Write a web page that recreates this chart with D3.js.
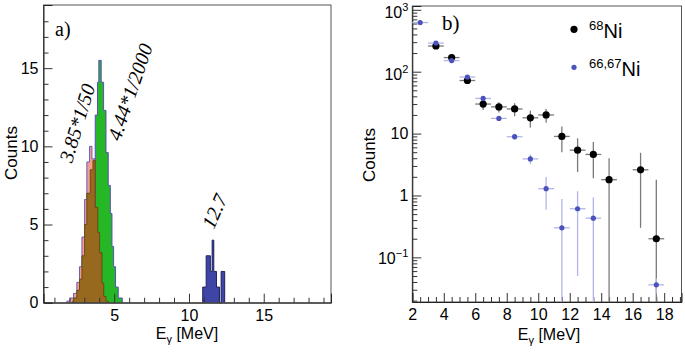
<!DOCTYPE html>
<html>
<head>
<meta charset="utf-8">
<script src="https://cdn.jsdelivr.net/npm/d3@7"></script>
<style>
  body { margin: 0; background: #fff; }
  svg text { font-family: "Liberation Sans", Arial, sans-serif; }
  .serif { font-family: "Liberation Serif", "Times New Roman", serif !important; }
</style>
</head>
<body>
<div id="chart"></div>
<script>
// ---- panel a) histograms: bin edges (MeV) and counts ----
var pinkEdges = [1.83, 2.06, 2.28, 2.5, 2.68, 2.84, 3.02, 3.17, 3.35, 3.51, 3.73, 3.88, 4.02, 4.18, 4.35];
var pinkCounts = [0.1, 0.3, 0.6, 1.3, 2.3, 4.2, 6.6, 9.0, 10.0, 9.2, 7.5, 4.5, 2.0, 0.6];

var greenEdges = [2.2, 2.5, 3.0, 3.4, 3.73, 3.88, 3.97, 4.13, 4.29, 4.45, 4.6, 4.74, 4.85, 4.96, 5.09, 5.27, 5.54];
var greenCounts = [0.1, 0.4, 1.5, 5.0, 12.0, 14.1, 15.5, 14.1, 12.3, 9.6, 7.5, 5.7, 3.6, 2.3, 1.0, 0.3];

var brownEdges = [2.28, 2.5, 2.68, 2.84, 3.02, 3.17, 3.40, 3.58, 3.73, 3.9, 4.02, 4.18, 4.3, 4.45, 4.6];
var brownCounts = [0.3, 0.8, 1.5, 3.0, 5.0, 7.0, 8.5, 9.1, 6.1, 4.5, 3.2, 1.25, 0.4, 0.1];

var blueEdges = [10.92, 11.15, 11.43, 11.55, 11.66, 11.84, 12.04, 12.15, 12.39];
var blueCounts = [1, 3, 2, 4, 2, 1, 0, 2];

var histLabels = [
    {text: "3.85*1/50", e: 2.17, c: 8.9, angle: -73},
    {text: "4.44*1/2000", e: 5.40, c: 10.3, angle: -71},
    {text: "12.7", e: 11.65, c: 4.65, angle: -66}
];

// ---- panel b) spectra ----
var ni68E = [3.5, 4.5, 5.5, 6.5, 7.5, 8.5, 9.5, 10.5, 11.5, 12.5, 13.5, 14.5, 16.5, 17.5];
var ni68Counts = [260, 169, 72, 30, 27, 25, 18, 20, 9.0, 5.4, 4.6, 1.8, 2.6, 0.2];
var ni68Err = [22, 18, 8, 6, 5, 6, 5.5, 5, 4, 3, 2.7, 2.2, 2.3, 1.6];

var ni6667E = [2.5, 3.5, 4.5, 5.5, 6.5, 7.5, 8.5, 9.5, 10.5, 11.5, 12.5, 13.5, 17.5];
var ni6667Counts = [622, 290, 151, 82, 37, 17.6, 8.9, 3.9, 1.29, 0.30, 0.61, 0.43, 0.036];
var ni6667Err = [20, 12, 8, 5, 3, 1.5, 1.0, 0.7, 0.7, 0.58, 0.56, 0.5, 0.01];

var xTicksA = [5, 10, 15];
var yTicksA = [0, 5, 10, 15];
var xTicksB = [2, 4, 6, 8, 10, 12, 14, 16, 18];
var yTicksB = [0.1, 1, 10, 100, 1000];

(function() {
    var svg = d3.select("#chart").append("svg")
        .attr("width", 685)
        .attr("height", 353);

    function addMinor(g, axisFn, scale, vals, size) {
        g.append("g").call(axisFn(scale).tickValues(vals).tickSize(size).tickFormat(""))
            .call(s => s.select(".domain").remove());
    }

    function histPoints(edges, counts) {
        var pts = [[edges[0], 0]];
        counts.forEach(function(c, i) {
            pts.push([edges[i], c]);
            pts.push([edges[i + 1], c]);
        });
        pts.push([edges[edges.length - 1], 0]);
        return pts;
    }

    // ================= panel a =================
    var xA = d3.scaleLinear().domain([0.27, 19.5]).range([43.5, 331]);
    var yA = d3.scaleLinear().domain([0, 19.04]).range([302.7, 5]);
    var gA = svg.append("g");

    var line = d3.line().x(d => xA(d[0])).y(d => yA(d[1]));

    var hists = [
        {edges: pinkEdges, counts: pinkCounts, fill: "#f69c8c", stroke: "#6a5cc0"},
        {edges: greenEdges, counts: greenCounts, fill: "#25b725", stroke: "#5a4ec2"},
        {edges: brownEdges, counts: brownCounts, fill: "#96691e", stroke: "#6b4a14"},
        {edges: blueEdges, counts: blueCounts, fill: "#3e45a6", stroke: "#1e225e"}
    ];
    hists.forEach(function(h) {
        gA.append("path")
            .attr("d", line(histPoints(h.edges, h.counts)))
            .attr("fill", h.fill)
            .attr("stroke", h.stroke)
            .attr("stroke-width", 1);
    });

    // frame
    gA.append("rect")
        .attr("x", xA.range()[0]).attr("y", yA.range()[1])
        .attr("width", xA.range()[1] - xA.range()[0])
        .attr("height", yA.range()[0] - yA.range()[1])
        .attr("fill", "none").attr("stroke", "#555").attr("stroke-width", 1);

    var xAxA = gA.append("g").attr("transform", "translate(0," + yA.range()[0] + ")");
    xAxA.call(d3.axisBottom(xA).tickValues(xTicksA).tickSize(-9).tickPadding(4))
        .call(s => s.select(".domain").attr("stroke", "#222"));
    addMinor(xAxA, d3.axisBottom, xA, d3.range(1, 20).filter(v => v % 5 !== 0), -5);

    var yAxA = gA.append("g").attr("transform", "translate(" + xA.range()[0] + ",0)");
    yAxA.call(d3.axisLeft(yA).tickValues(yTicksA).tickSize(-9).tickPadding(5))
        .call(s => s.select(".domain").attr("stroke", "#222"));
    addMinor(yAxA, d3.axisLeft, yA, d3.range(1, 19).filter(v => v % 5 !== 0), -5);

    gA.selectAll(".tick text").attr("font-size", 16).attr("fill", "#000")
        .attr("font-family", "Liberation Sans, Arial, sans-serif");
    xAxA.selectAll(".tick text").attr("dy", "0.9em");
    gA.selectAll(".tick line").attr("stroke", "#333");

    // labels
    gA.append("text").attr("class", "serif")
        .attr("x", 55).attr("y", 36).attr("font-size", 20).text("a)");

    histLabels.forEach(function(l) {
        gA.append("text").attr("class", "serif")
            .attr("font-style", "italic").attr("font-size", 20)
            .attr("transform", "translate(" + xA(l.e) + "," + yA(l.c) + ") rotate(" + l.angle + ")")
            .text(l.text);
    });

    gA.append("text")
        .attr("transform", "translate(17,153) rotate(-90)")
        .attr("text-anchor", "middle").attr("font-size", 17).text("Counts");

    var eLabA = gA.append("text").attr("x", 187).attr("y", 339)
        .attr("text-anchor", "middle").attr("font-size", 16);
    eLabA.append("tspan").text("E");
    eLabA.append("tspan").attr("font-size", 11).attr("dy", 4).text("\u03b3");
    eLabA.append("tspan").attr("dy", -4).text(" [MeV]");

    // ================= panel b =================
    var xB = d3.scaleLinear().domain([2, 19.1]).range([412.3, 681.5]);
    var yB = d3.scaleLog().domain([0.019, 1152]).range([302, 6]);
    var gB = svg.append("g");

    gB.append("rect")
        .attr("x", xB.range()[0]).attr("y", yB.range()[1])
        .attr("width", xB.range()[1] - xB.range()[0])
        .attr("height", yB.range()[0] - yB.range()[1])
        .attr("fill", "none").attr("stroke", "#555").attr("stroke-width", 1);

    var xAxB = gB.append("g").attr("transform", "translate(0," + yB.range()[0] + ")");
    xAxB.call(d3.axisBottom(xB).tickValues(xTicksB).tickSize(-9).tickPadding(4))
        .call(s => s.select(".domain").attr("stroke", "#222"));
    addMinor(xAxB, d3.axisBottom, xB, d3.range(2.5, 19.1, 0.5).filter(v => v % 2 !== 0), -5);

    var minorLog = [];
    [0.01, 0.1, 1, 10, 100].forEach(function(d) {
        for (var k = 2; k <= 9; k++) {
            var v = d * k;
            if (v >= 0.019 && v <= 1152) minorLog.push(v);
        }
    });
    var yAxB = gB.append("g").attr("transform", "translate(" + xB.range()[0] + ",0)");
    yAxB.call(d3.axisLeft(yB).tickValues(yTicksB).tickSize(-9).tickPadding(4).tickFormat(""))
        .call(s => s.select(".domain").attr("stroke", "#222"));
    addMinor(yAxB, d3.axisLeft, yB, minorLog, -5);
    gB.selectAll(".tick line").attr("stroke", "#333");

    xAxB.selectAll(".tick text").attr("font-size", 16).attr("fill", "#000").attr("dy", "0.9em")
        .attr("font-family", "Liberation Sans, Arial, sans-serif");

    // log tick labels with exponents
    var yLabs = [
        {v: 1000, base: "10", exp: "3", shift: 3},
        {v: 100, base: "10", exp: "2", shift: 3},
        {v: 10, base: "10", exp: "", shift: 0},
        {v: 1, base: "1", exp: "", shift: 0},
        {v: 0.1, base: "10", exp: "\u22121", shift: 1}
    ];
    yLabs.forEach(function(l) {
        var t = gB.append("text")
            .attr("x", xB.range()[0] - 4).attr("y", yB(l.v) + l.shift)
            .attr("dy", "0.35em").attr("text-anchor", "end").attr("font-size", 16);
        t.append("tspan").text(l.base);
        if (l.exp) t.append("tspan").attr("font-size", 11).attr("dy", -7).text(l.exp);
    });

    // error bars and markers
    var yMin = yB.domain()[0];
    function drawSeries(E, C, Err, barColor, dotColor, r) {
        var g = gB.append("g");
        E.forEach(function(e, i) {
            var lo = Math.max(C[i] - Err[i], yMin);
            g.append("line")
                .attr("x1", xB(e)).attr("x2", xB(e))
                .attr("y1", yB(lo)).attr("y2", yB(C[i] + Err[i]))
                .attr("stroke", barColor).attr("stroke-width", 1.3);
            g.append("line")
                .attr("x1", xB(Math.max(e - 0.5, 2))).attr("x2", xB(e + 0.5))
                .attr("y1", yB(C[i])).attr("y2", yB(C[i]))
                .attr("stroke", barColor).attr("stroke-width", 1.3);
        });
        g.selectAll("circle").data(E).enter().append("circle")
            .attr("cx", d => xB(d))
            .attr("cy", (d, i) => yB(C[i]))
            .attr("r", r)
            .attr("fill", dotColor);
    }
    drawSeries(ni68E, ni68Counts, ni68Err, "#7a7a7a", "#000", 3.6);
    drawSeries(ni6667E, ni6667Counts, ni6667Err, "#b2b6e6", "#4b52bb", 2.6);

    // legend
    gB.append("circle").attr("cx", 574).attr("cy", 29.3).attr("r", 3.6).attr("fill", "#000");
    gB.append("circle").attr("cx", 574).attr("cy", 67.3).attr("r", 2.6).attr("fill", "#4b52bb");
    var l1 = gB.append("text").attr("x", 589).attr("y", 38).attr("font-size", 20);
    l1.append("tspan").attr("font-size", 13).attr("dy", -8).text("68");
    l1.append("tspan").attr("dy", 8).text("Ni");
    var l2 = gB.append("text").attr("x", 589).attr("y", 76).attr("font-size", 20);
    l2.append("tspan").attr("font-size", 13).attr("dy", -8).text("66,67");
    l2.append("tspan").attr("dy", 8).text("Ni");

    gB.append("text").attr("class", "serif")
        .attr("x", 442).attr("y", 30).attr("font-size", 21).text("b)");

    gB.append("text")
        .attr("transform", "translate(375,155) rotate(-90)")
        .attr("text-anchor", "middle").attr("font-size", 17).text("Counts");

    var eLabB = gB.append("text").attr("x", 549).attr("y", 340)
        .attr("text-anchor", "middle").attr("font-size", 16);
    eLabB.append("tspan").text("E");
    eLabB.append("tspan").attr("font-size", 11).attr("dy", 4).text("\u03b3");
    eLabB.append("tspan").attr("dy", -4).text(" [MeV]");
})();
</script>
</body>
</html>
